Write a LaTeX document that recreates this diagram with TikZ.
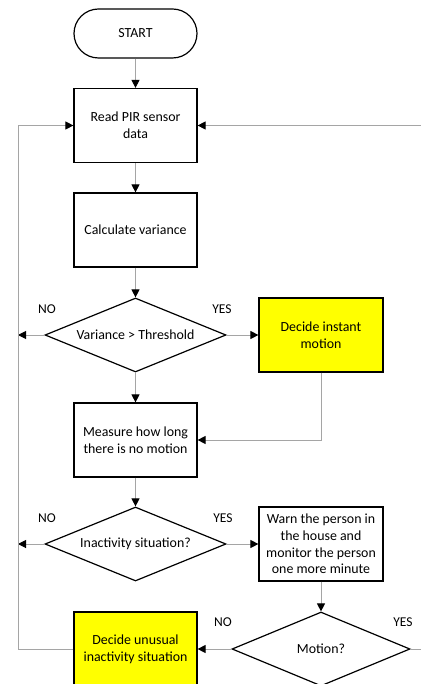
\documentclass[tikz,border=0pt]{standalone}
\usepackage{fontspec}
\setmainfont{Carlito}
\usetikzlibrary{shapes.geometric,arrows.meta}
\definecolor{conn}{RGB}{165,165,165}
\definecolor{hl}{RGB}{255,255,0}
\begin{document}
\begin{tikzpicture}[x=1pt,y=-1pt,
  font=\fontsize{13.9}{16.7}\selectfont,
  box/.style={draw=black,line width=1.2pt,rectangle,minimum width=123pt,minimum height=74pt,align=center,inner sep=0pt},
  hbox/.style={box,fill=hl,minimum width=124pt},
  term/.style={box,minimum height=49pt,rounded corners=24.5pt},
  dec/.style={draw=black,line width=1.2pt,diamond,shape aspect=2.44,minimum width=181pt,minimum height=74pt,inner sep=0pt,align=center},
  flow/.style={draw=conn,line width=1pt,-{Triangle[length=8pt,width=8pt,color=black]}},
  lbl/.style={font=\fontsize{13.5}{15}\selectfont,inner sep=0pt}
]
\useasboundingbox (0,0) rectangle (420,684);
\node[term] (start) at (135.5,33.5) {START};
\node[box] (read) at (135.5,125.5) {Read PIR sensor\\data};
\node[box] (calc) at (135.5,230) {Calculate variance};
\node[dec] (d1) at (135.5,335) {Variance > Threshold};
\node[hbox] (inst) at (321,335) {Decide instant\\motion};
\node[box] (meas) at (135.5,440) {Measure how long\\there is no motion};
\node[dec] (d2) at (135.5,544) {Inactivity situation?};
\node[box,minimum width=124pt] (warn) at (321,544) {Warn the person in\\the house and\\monitor the person\\one more minute};
\node[dec,minimum width=178pt] (d3) at (321,649) {Motion?};
\node[hbox,minimum width=123pt] (unus) at (135.5,649) {Decide unusual\\inactivity situation};

\node[lbl] (no1) at (47,309) {NO};
\node[lbl] (yes1) at (222,309) {YES};
\node[lbl] (no2) at (47,518) {NO};
\node[lbl] (yes2) at (223,518) {YES};
\node[lbl] (no3) at (223,622) {NO};
\node[lbl] (yes3) at (403,622) {YES};

\coordinate (L1) at (18,335);
\coordinate (L2) at (18,544);
\coordinate (L3) at (18,649);
\coordinate (R3) at (430,649);

\draw[flow] (start) -- (read);
\draw[flow] (read) -- (calc);
\draw[flow] (calc) -- (d1);
\draw[flow] (d1.west) -- (L1);
\draw[flow] (d1.east) -- (inst.west);
\draw[flow] (inst.south) |- (meas.east);
\draw[flow] (d1.south) -- (meas.north);
\draw[flow] (meas) -- (d2);
\draw[flow] (d2.west) -- (L2);
\draw[flow] (d2.east) -- (warn.west);
\draw[flow] (warn.south) -- (d3.north);
\draw[flow] (d3.west) -- (unus.east);
\draw[flow] (unus.west) -- (L3) |- (read.west);
\draw[flow] (d3.east) -- (R3) |- (read.east);
\end{tikzpicture}
\end{document}
